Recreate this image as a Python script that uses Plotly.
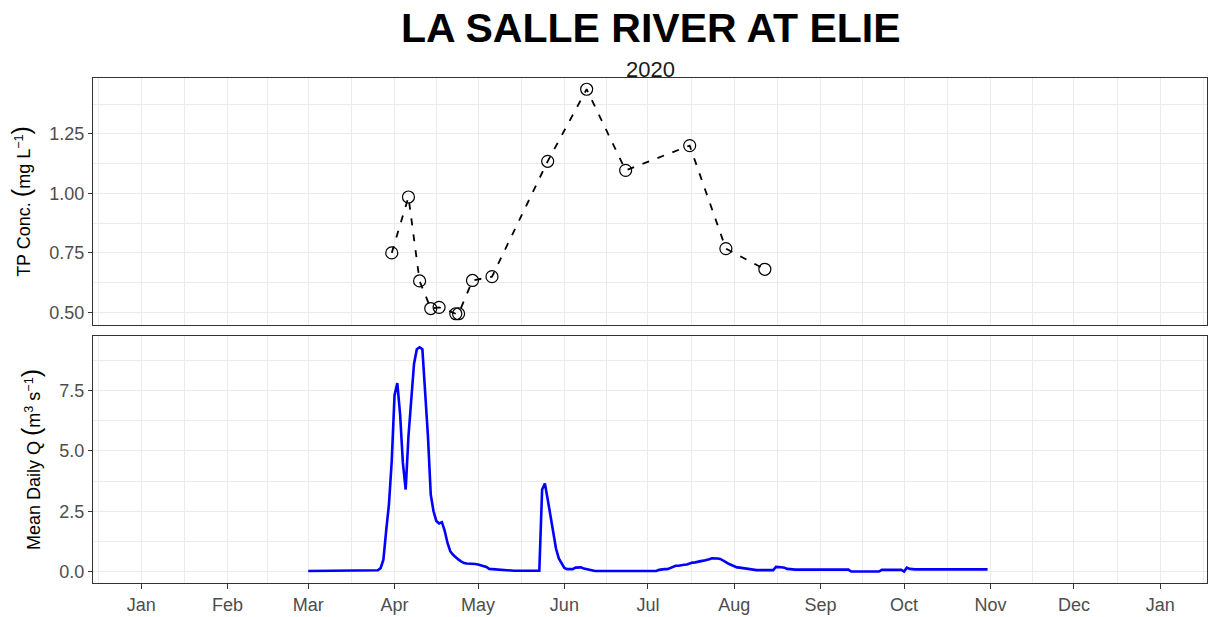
import plotly.graph_objects as go
from plotly.subplots import make_subplots
import pandas as pd

# ---------------- data ----------------
title_text = "LA SALLE RIVER AT ELIE"
subtitle_text = "2020"

tp_dates = ["2020-03-31", "2020-04-06", "2020-04-10", "2020-04-14", "2020-04-17",
            "2020-04-23", "2020-04-24", "2020-04-29", "2020-05-06", "2020-05-26",
            "2020-06-09", "2020-06-23", "2020-07-16", "2020-07-29", "2020-08-12"]
tp_conc = [0.75, 0.985, 0.632, 0.516, 0.521,
           0.494, 0.494, 0.634, 0.650, 1.135,
           1.438, 1.097, 1.201, 0.768, 0.681]

q_start = "2020-03-01"
q_mean = [
    # March
    0.03, 0.03, 0.03, 0.03, 0.03, 0.03, 0.03, 0.03, 0.03, 0.03,
    0.03, 0.03, 0.03, 0.03, 0.03, 0.03, 0.03, 0.03, 0.03, 0.03,
    0.03, 0.03, 0.03, 0.03, 0.03, 0.06, 0.15, 0.5, 1.7, 2.8,
    4.6,
    # April
    7.3, 7.8, 6.5, 4.5, 3.4, 5.6, 7.0, 8.6, 9.2, 9.28,
    9.2, 7.6, 5.6, 3.2, 2.5, 2.1, 2.0, 2.05, 1.7, 1.2,
    0.85, 0.7, 0.58, 0.5, 0.42, 0.36, 0.34, 0.34, 0.33, 0.32,
    # May
    0.3, 0.26, 0.24, 0.2, 0.12, 0.11, 0.11, 0.1, 0.08, 0.05,
    0.04, 0.04, 0.04, 0.04, 0.04, 0.04, 0.04, 0.04, 0.04, 0.04,
    0.04, 0.04, 0.04, 3.4, 3.65, 3.0, 2.3, 1.57, 0.95, 0.55,
    0.33,
    # June
    0.16, 0.11, 0.11, 0.11, 0.17, 0.18, 0.18, 0.13, 0.1, 0.08,
    0.06, 0.03, 0.03, 0.03, 0.03, 0.03, 0.03, 0.03, 0.03, 0.03,
    0.03, 0.03, 0.03, 0.03, 0.03, 0.03, 0.03, 0.03, 0.03, 0.03,
    # July
    0.03, 0.03, 0.03, 0.03, 0.08, 0.11, 0.11, 0.11, 0.15, 0.22,
    0.25, 0.25, 0.28, 0.29, 0.3, 0.35, 0.38, 0.39, 0.4, 0.44,
    0.46, 0.48, 0.52, 0.56, 0.57, 0.55, 0.53, 0.48, 0.4, 0.33,
    0.27,
    # August
    0.22, 0.18, 0.17, 0.15, 0.15, 0.12, 0.08, 0.07, 0.07, 0.07,
    0.07, 0.07, 0.07, 0.07, 0.07, 0.2, 0.21, 0.19, 0.17, 0.12,
    0.11, 0.09, 0.09, 0.09, 0.09, 0.09, 0.09, 0.09, 0.09, 0.09,
    0.09,
    # September
    0.09, 0.09, 0.09, 0.09, 0.09, 0.09, 0.09, 0.09, 0.09, 0.09,
    0.09, 0.01, 0.01, 0.01, 0.01, 0.01, 0.01, 0.01, 0.01, 0.01,
    0.01, 0.01, 0.08, 0.08, 0.08, 0.08, 0.08, 0.08, 0.08, 0.08,
    # October
    0.01, 0.17, 0.12, 0.1, 0.1, 0.1, 0.1, 0.1, 0.1, 0.1,
    0.1, 0.1, 0.1, 0.1, 0.1, 0.1, 0.1, 0.1, 0.1, 0.1,
    0.1, 0.1, 0.1, 0.1, 0.1, 0.1, 0.1, 0.1, 0.1, 0.1,
    0.1,
]
q_dates = pd.date_range(q_start, periods=len(q_mean), freq="D")

month_ticks = ["2020-01-01", "2020-02-01", "2020-03-01", "2020-04-01", "2020-05-01",
               "2020-06-01", "2020-07-01", "2020-08-01", "2020-09-01", "2020-10-01",
               "2020-11-01", "2020-12-01", "2021-01-01"]
month_labels = ["Jan", "Feb", "Mar", "Apr", "May", "Jun", "Jul", "Aug", "Sep", "Oct",
                "Nov", "Dec", "Jan"]

tp_ticks = [0.5, 0.75, 1.0, 1.25]
tp_ticklabels = ["0.50", "0.75", "1.00", "1.25"]
q_ticks = [0.0, 2.5, 5.0, 7.5]
q_ticklabels = ["0.0", "2.5", "5.0", "7.5"]

# ---------------- layout helpers ----------------
W, H = 1209, 617
ML, MR, MT, MB = 93, 2, 78, 34
FONT = "Liberation Sans, Arial, Helvetica, sans-serif"
GRID = "#EBEBEB"
BORDER = "#333333"
TICKFONT = dict(family=FONT, size=18, color="#4D4D4D")
PAREN = "<span style='font-size:25px'>%s</span>"

mt = pd.to_datetime(month_ticks)
ext = [mt[0] - (mt[1] - mt[0])] + list(mt) + [mt[-1] + (mt[-1] - mt[-2])]
x_minor = [ext[i] + (ext[i + 1] - ext[i]) / 2 for i in range(len(ext) - 1)]
x_range = [mt[0] - pd.Timedelta(days=17.3), mt[-1] + pd.Timedelta(days=16.8)]

tp_min, tp_max = min(tp_conc), max(tp_conc)
tp_pad = (tp_max - tp_min) * 0.05
tp_range = [tp_min - tp_pad, tp_max + tp_pad]
q_min, q_max = 0.0, max(q_mean)
q_pad = (q_max - q_min) * 0.05
q_range = [q_min - q_pad, q_max + q_pad]

plot_h = H - MT - MB
top_dom = [(H - MB - 325) / plot_h, 1.0]
bot_dom = [0.0, (H - MB - 336) / plot_h]

fig = make_subplots(rows=2, cols=1, shared_xaxes=False)

fig.add_trace(go.Scatter(
    x=pd.to_datetime(tp_dates), y=tp_conc, mode="lines+markers",
    line=dict(color="black", width=1.8, dash="7px,9px"),
    marker=dict(symbol="circle-open", size=12, color="black", line=dict(width=1.2)),
    showlegend=False, hoverinfo="skip"), row=1, col=1)

fig.add_trace(go.Scatter(
    x=q_dates, y=q_mean, mode="lines",
    line=dict(color="#0000FF", width=2.6),
    showlegend=False, hoverinfo="skip"), row=2, col=1)

common_x = dict(
    type="date", range=x_range, tickmode="array", tickvals=mt,
    showgrid=True, gridcolor=GRID, gridwidth=1.1,
    minor=dict(tickmode="array", tickvals=x_minor, showgrid=True, gridcolor=GRID,
               gridwidth=0.6, ticks=""),
    showline=True, mirror=True, linecolor=BORDER, linewidth=1.2, zeroline=False,
)
fig.update_xaxes(**common_x, showticklabels=False, ticks="", row=1, col=1)
fig.update_xaxes(**common_x, ticktext=month_labels, ticks="outside", ticklen=5,
                 tickwidth=1, tickcolor=BORDER, tickfont=TICKFONT, row=2, col=1)

common_y = dict(showgrid=True, gridcolor=GRID, gridwidth=1.1, zeroline=False,
                showline=True, mirror=True, linecolor=BORDER, linewidth=1.2,
                ticks="outside", ticklen=4, tickwidth=1, tickcolor=BORDER,
                tickfont=TICKFONT, tickmode="array")
fig.update_yaxes(**common_y, range=tp_range, tickvals=tp_ticks, ticktext=tp_ticklabels,
                 minor=dict(tickmode="array", tickvals=[0.625, 0.875, 1.125, 1.375],
                            showgrid=True, gridcolor=GRID, gridwidth=0.6, ticks=""),
                 title=dict(text="TP Conc. " + PAREN % "(" + "mg L<sup>−1</sup>" + PAREN % ")",
                            font=dict(family=FONT, size=18, color="black"), standoff=13),
                 row=1, col=1)
fig.update_yaxes(**common_y, range=q_range, tickvals=q_ticks, ticktext=q_ticklabels,
                 minor=dict(tickmode="array", tickvals=[1.25, 3.75, 6.25, 8.75],
                            showgrid=True, gridcolor=GRID, gridwidth=0.6, ticks=""),
                 title=dict(text="Mean Daily Q " + PAREN % "(" + "m<sup>3</sup> s<sup>−1</sup>" + PAREN % ")",
                            font=dict(family=FONT, size=18, color="black"), standoff=13),
                 row=2, col=1)

fig.update_layout(
    width=W, height=H, autosize=False,
    margin=dict(l=ML, r=MR, t=MT, b=MB, pad=0),
    paper_bgcolor="white", plot_bgcolor="white",
    font=dict(family=FONT, color="black"),
    xaxis=dict(domain=[0, 1]), xaxis2=dict(domain=[0, 1]),
    yaxis=dict(domain=top_dom), yaxis2=dict(domain=bot_dom),
    annotations=[
        dict(text="<b>" + title_text + "</b>", xref="paper", yref="paper",
             x=(651 - ML) / (W - ML - MR), y=1 + (MT - 28) / plot_h,
             xanchor="center", yanchor="middle", showarrow=False,
             font=dict(family=FONT, size=41, color="black")),
        dict(text=subtitle_text, xref="paper", yref="paper",
             x=0.5, y=1 + (MT - 69) / plot_h,
             xanchor="center", yanchor="middle", showarrow=False,
             font=dict(family=FONT, size=22, color="#1A1A1A")),
    ],
)

fig.write_html("out.html", config={"displayModeBar": False},
               post_script="document.body.style.margin='0px';")
